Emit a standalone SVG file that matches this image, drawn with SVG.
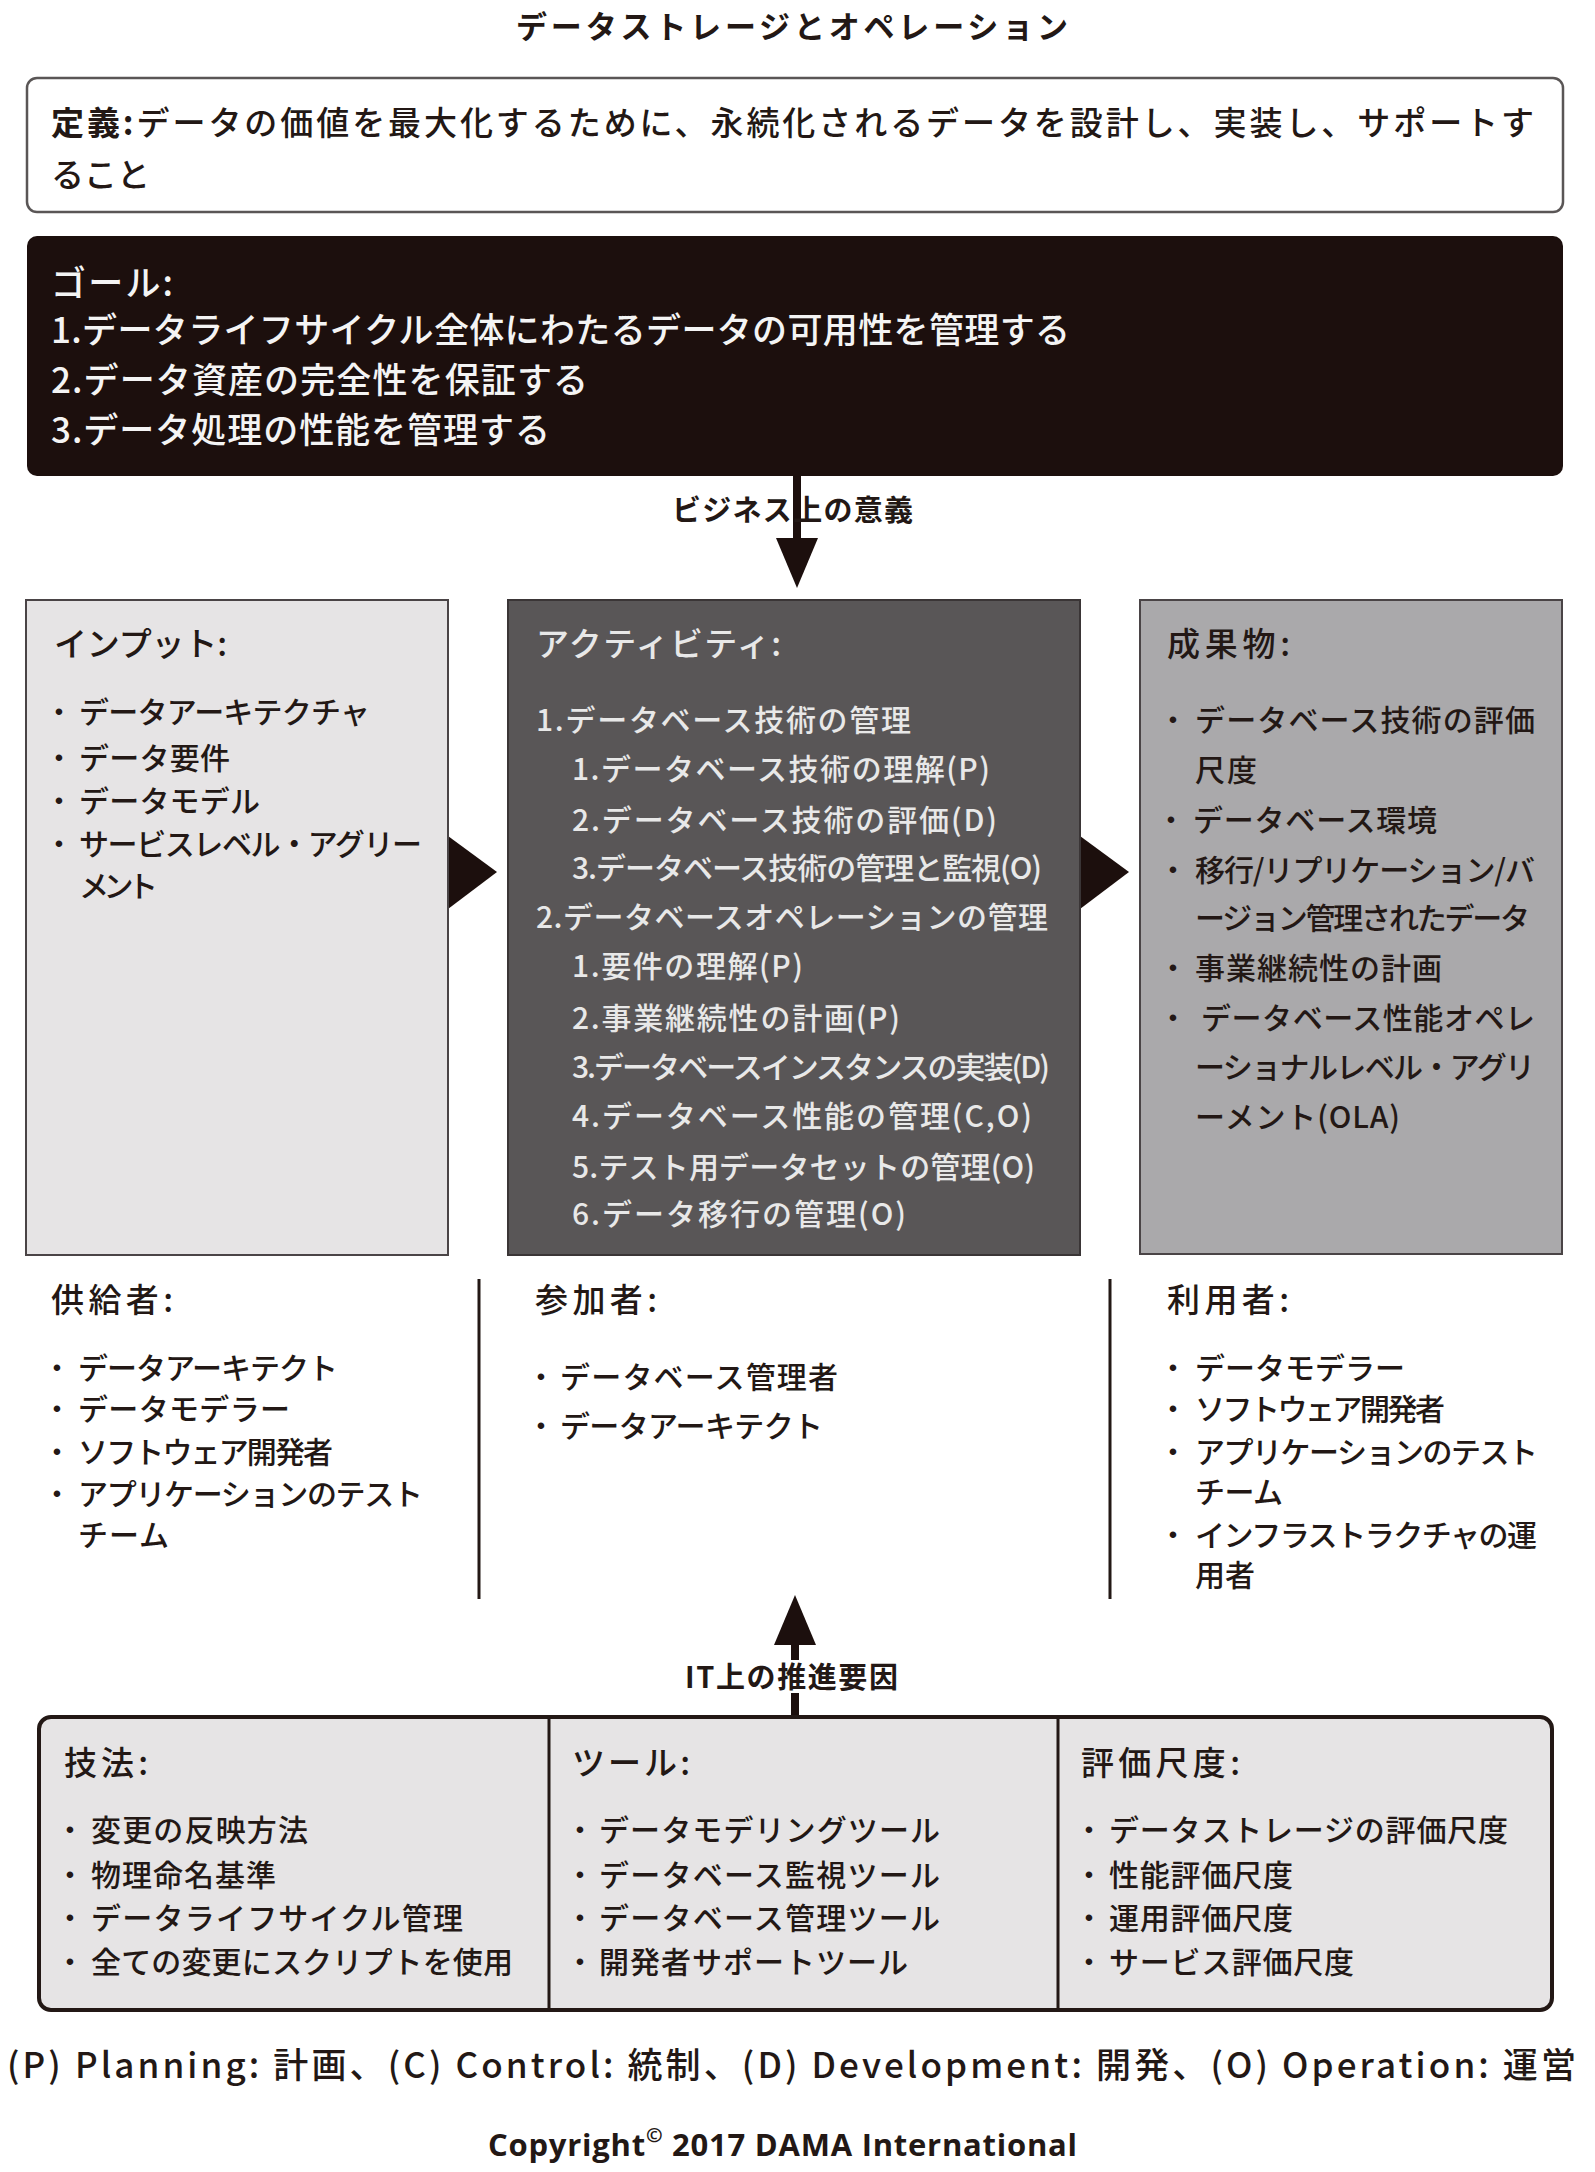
<svg xmlns="http://www.w3.org/2000/svg" width="1595" height="2172" viewBox="0 0 1595 2172">
<style>
text { font-family: "Noto Sans CJK JP", "Noto Sans", sans-serif; fill: #231815; font-weight: 500; }
.title { font-size: 31px; font-weight: bold; }
.def { font-size: 33px; }
.goal { font-size: 35px; fill: #f4f4f4; }
.h { font-size: 33px; }
.it { font-size: 30px; }
.lt { fill: #e8e8e8; }
.lbl { font-size: 29px; font-weight: bold; }
.bul { font-family: "Liberation Sans", Arial, sans-serif; font-size: 24px; text-anchor: middle; }
.foot { font-size: 35px; }
.copy { font-family: "Open Sans", "Noto Sans", sans-serif; font-size: 31px; font-weight: bold; }
.dark { fill: #1c0f0d; }
.conn { stroke: #1c0f0d; stroke-width: 8; }
.div { stroke: #231815; stroke-width: 3; }
</style>

<g id="title">
<text class="title" x="516" y="38" textLength="552" lengthAdjust="spacing">データストレージとオペレーション</text>
</g>

<g id="definition">
<rect x="27" y="78" width="1536" height="134" rx="10" fill="#ffffff" stroke="#5a5656" stroke-width="2.5"/>
<text class="def" x="51" y="135" textLength="1483" lengthAdjust="spacing"><tspan font-weight="bold">定義:</tspan>データの価値を最大化するために、永続化されるデータを設計し、実装し、サポートす</text>
<text class="def" x="51" y="187">ること</text>
</g>

<g id="goals">
<rect x="27" y="236" width="1536" height="240" rx="10" fill="#1c0f0d"/>
<text class="goal" x="51" y="296" textLength="122" lengthAdjust="spacing">ゴール:</text>
<text class="goal" x="51" y="343" textLength="1019" lengthAdjust="spacing">1.データライフサイクル全体にわたるデータの可用性を管理する</text>
<text class="goal" x="51" y="393" textLength="537" lengthAdjust="spacing">2.データ資産の完全性を保証する</text>
<text class="goal" x="51" y="443" textLength="499" lengthAdjust="spacing">3.データ処理の性能を管理する</text>
</g>

<g id="connectors">
<line class="conn" x1="797" y1="476" x2="797" y2="542"/>
<polygon class="dark" points="776,538 818,538 797,588"/>
<text class="lbl" x="672" y="521" textLength="241" lengthAdjust="spacing">ビジネス上の意義</text>
<polygon class="dark" points="448,836 497,872 448,909"/>
<polygon class="dark" points="1080,836 1129,872 1080,909"/>
<line class="conn" x1="795" y1="1640" x2="795" y2="1717"/>
<polygon class="dark" points="774,1645 816,1645 795,1595"/>
<rect x="682" y="1660" width="220" height="33" fill="#ffffff"/>
<text class="lbl" x="685" y="1688" textLength="213" lengthAdjust="spacing">IT上の推進要因</text>
<line class="div" x1="479" y1="1279" x2="479" y2="1599"/>
<line class="div" x1="1110" y1="1279" x2="1110" y2="1599"/>
</g>

<g id="inputs">
<rect x="26" y="600" width="422" height="655" fill="#e6e4e5" stroke="#4a4446" stroke-width="2"/>
<text class="h" x="54" y="656" textLength="173" lengthAdjust="spacing">インプット:</text>
<text class="bul" x="59" y="720">•</text>
<text class="it" x="79" y="723" textLength="291" lengthAdjust="spacing">データアーキテクチャ</text>
<text class="bul" x="59" y="766">•</text>
<text class="it" x="79" y="769" textLength="151" lengthAdjust="spacing">データ要件</text>
<text class="bul" x="59" y="809">•</text>
<text class="it" x="79" y="812" textLength="181" lengthAdjust="spacing">データモデル</text>
<text class="bul" x="59" y="852">•</text>
<text class="it" x="79" y="855" textLength="343" lengthAdjust="spacing">サービスレベル・アグリー</text>
<text class="it" x="79" y="897" textLength="79" lengthAdjust="spacing">メント</text>
</g>

<g id="activities">
<rect x="508" y="600" width="572" height="655" fill="#595657" stroke="#3a3536" stroke-width="2"/>
<text class="h lt" x="536" y="656" textLength="245" lengthAdjust="spacing">アクティビティ:</text>
<text class="it lt" x="536" y="731" textLength="375" lengthAdjust="spacing">1.データベース技術の管理</text>
<text class="it lt" x="572" y="780" textLength="418" lengthAdjust="spacing">1.データベース技術の理解(P)</text>
<text class="it lt" x="572" y="831" textLength="425" lengthAdjust="spacing">2.データベース技術の評価(D)</text>
<text class="it lt" x="572" y="879" textLength="470" lengthAdjust="spacing">3.データベース技術の管理と監視(O)</text>
<text class="it lt" x="536" y="928" textLength="512" lengthAdjust="spacing">2.データベースオペレーションの管理</text>
<text class="it lt" x="572" y="977" textLength="231" lengthAdjust="spacing">1.要件の理解(P)</text>
<text class="it lt" x="572" y="1029" textLength="328" lengthAdjust="spacing">2.事業継続性の計画(P)</text>
<text class="it lt" x="572" y="1078" textLength="478" lengthAdjust="spacing">3.データベースインスタンスの実装(D)</text>
<text class="it lt" x="572" y="1127" textLength="460" lengthAdjust="spacing">4.データベース性能の管理(C,O)</text>
<text class="it lt" x="572" y="1178" textLength="463" lengthAdjust="spacing">5.テスト用データセットの管理(O)</text>
<text class="it lt" x="572" y="1225" textLength="334" lengthAdjust="spacing">6.データ移行の管理(O)</text>
</g>

<g id="deliverables">
<rect x="1140" y="600" width="422" height="654" fill="#aaa9ab" stroke="#4a4446" stroke-width="2"/>
<text class="h" x="1167" y="656" textLength="123" lengthAdjust="spacing">成果物:</text>
<text class="bul" x="1173" y="728">•</text>
<text class="it" x="1195" y="731" textLength="340" lengthAdjust="spacing">データベース技術の評価</text>
<text class="it" x="1195" y="781" textLength="62" lengthAdjust="spacing">尺度</text>
<text class="bul" x="1171" y="828">•</text>
<text class="it" x="1193" y="831" textLength="244" lengthAdjust="spacing">データベース環境</text>
<text class="bul" x="1173" y="878">•</text>
<text class="it" x="1195" y="881" textLength="340" lengthAdjust="spacing">移行/リプリケーション/バ</text>
<text class="it" x="1195" y="929" textLength="335" lengthAdjust="spacing">ージョン管理されたデータ</text>
<text class="bul" x="1173" y="976">•</text>
<text class="it" x="1195" y="979" textLength="247" lengthAdjust="spacing">事業継続性の計画</text>
<text class="bul" x="1173" y="1026">•</text>
<text class="it" x="1201" y="1029" textLength="334" lengthAdjust="spacing">データベース性能オペレ</text>
<text class="it" x="1195" y="1078" textLength="340" lengthAdjust="spacing">ーショナルレベル・アグリ</text>
<text class="it" x="1195" y="1128" textLength="205" lengthAdjust="spacing">ーメント(OLA)</text>
</g>

<g id="suppliers">
<text class="h" x="51" y="1312" textLength="122" lengthAdjust="spacing">供給者:</text>
<text class="bul" x="57" y="1376">•</text>
<text class="it" x="78" y="1379" textLength="260" lengthAdjust="spacing">データアーキテクト</text>
<text class="bul" x="57" y="1417">•</text>
<text class="it" x="78" y="1420" textLength="212" lengthAdjust="spacing">データモデラー</text>
<text class="bul" x="57" y="1460">•</text>
<text class="it" x="78" y="1463" textLength="255" lengthAdjust="spacing">ソフトウェア開発者</text>
<text class="bul" x="57" y="1502">•</text>
<text class="it" x="78" y="1505" textLength="345" lengthAdjust="spacing">アプリケーションのテスト</text>
<text class="it" x="78" y="1546" textLength="91" lengthAdjust="spacing">チーム</text>
</g>

<g id="participants">
<text class="h" x="535" y="1312" textLength="122" lengthAdjust="spacing">参加者:</text>
<text class="bul" x="541" y="1385">•</text>
<text class="it" x="560" y="1388" textLength="278" lengthAdjust="spacing">データベース管理者</text>
<text class="bul" x="541" y="1434">•</text>
<text class="it" x="560" y="1437" textLength="263" lengthAdjust="spacing">データアーキテクト</text>
</g>

<g id="consumers">
<text class="h" x="1167" y="1312" textLength="122" lengthAdjust="spacing">利用者:</text>
<text class="bul" x="1173" y="1376">•</text>
<text class="it" x="1195" y="1379" textLength="210" lengthAdjust="spacing">データモデラー</text>
<text class="bul" x="1173" y="1417">•</text>
<text class="it" x="1195" y="1420" textLength="250" lengthAdjust="spacing">ソフトウェア開発者</text>
<text class="bul" x="1173" y="1460">•</text>
<text class="it" x="1195" y="1463" textLength="343" lengthAdjust="spacing">アプリケーションのテスト</text>
<text class="it" x="1195" y="1503" textLength="88" lengthAdjust="spacing">チーム</text>
<text class="bul" x="1173" y="1543">•</text>
<text class="it" x="1195" y="1546" textLength="342" lengthAdjust="spacing">インフラストラクチャの運</text>
<text class="it" x="1195" y="1586" textLength="60" lengthAdjust="spacing">用者</text>
</g>

<g id="drivers">
<rect x="39" y="1717" width="1513" height="293" rx="12" fill="#e6e4e5" stroke="#231815" stroke-width="4"/>
<line class="div" x1="549" y1="1717" x2="549" y2="2010"/>
<line class="div" x1="1058" y1="1717" x2="1058" y2="2010"/>
<g id="techniques">
<text class="h" x="64" y="1775" textLength="84" lengthAdjust="spacing">技法:</text>
<text class="bul" x="70" y="1838">•</text>
<text class="it" x="91" y="1841" textLength="217" lengthAdjust="spacing">変更の反映方法</text>
<text class="bul" x="70" y="1883">•</text>
<text class="it" x="91" y="1886" textLength="185" lengthAdjust="spacing">物理命名基準</text>
<text class="bul" x="70" y="1926">•</text>
<text class="it" x="91" y="1929" textLength="372" lengthAdjust="spacing">データライフサイクル管理</text>
<text class="bul" x="70" y="1970">•</text>
<text class="it" x="91" y="1973" textLength="422" lengthAdjust="spacing">全ての変更にスクリプトを使用</text>
</g>
<g id="tools">
<text class="h" x="572" y="1775" textLength="118" lengthAdjust="spacing">ツール:</text>
<text class="bul" x="580" y="1838">•</text>
<text class="it" x="599" y="1841" textLength="341" lengthAdjust="spacing">データモデリングツール</text>
<text class="bul" x="580" y="1883">•</text>
<text class="it" x="599" y="1886" textLength="341" lengthAdjust="spacing">データベース監視ツール</text>
<text class="bul" x="580" y="1926">•</text>
<text class="it" x="599" y="1929" textLength="341" lengthAdjust="spacing">データベース管理ツール</text>
<text class="bul" x="580" y="1970">•</text>
<text class="it" x="599" y="1973" textLength="309" lengthAdjust="spacing">開発者サポートツール</text>
</g>
<g id="metrics">
<text class="h" x="1081" y="1775" textLength="159" lengthAdjust="spacing">評価尺度:</text>
<text class="bul" x="1089" y="1838">•</text>
<text class="it" x="1109" y="1841" textLength="399" lengthAdjust="spacing">データストレージの評価尺度</text>
<text class="bul" x="1089" y="1883">•</text>
<text class="it" x="1109" y="1886" textLength="184" lengthAdjust="spacing">性能評価尺度</text>
<text class="bul" x="1089" y="1926">•</text>
<text class="it" x="1109" y="1929" textLength="184" lengthAdjust="spacing">運用評価尺度</text>
<text class="bul" x="1089" y="1970">•</text>
<text class="it" x="1109" y="1973" textLength="245" lengthAdjust="spacing">サービス評価尺度</text>
</g>
</g>

<g id="footer">
<text class="foot" x="7" y="2078" textLength="1569" lengthAdjust="spacing">(P) Planning: 計画、(C) Control: 統制、(D) Development: 開発、(O) Operation: 運営</text>
<text class="copy" x="488" y="2156" textLength="589" lengthAdjust="spacing">Copyright<tspan font-size="20" dy="-14">©</tspan><tspan dy="14"> 2017 DAMA International</tspan></text>
</g>
</svg>
